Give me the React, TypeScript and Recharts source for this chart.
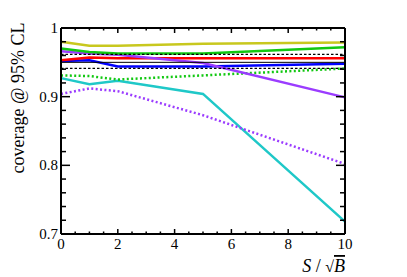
import { LineChart, Line, XAxis, YAxis, ReferenceLine, Label } from 'recharts';

// S / sqrt(B) sampling points
const signif = [0, 1, 2, 5, 10];

// coverage per method
const yellowCov = [0.980, 0.974, 0.974, 0.977, 0.979];
const greenCov = [0.970, 0.965, 0.963, 0.963, 0.972];
const redCov = [0.953, 0.957, 0.956, 0.956, 0.956];
const blueCov = [0.952, 0.953, 0.944, 0.944, 0.948];
const purpleCov = [0.966, 0.963, 0.961, 0.949, 0.899];
const cyanCov = [0.927, 0.918, 0.923, 0.904, 0.718];
const greenDotCov = [0.931, 0.930, 0.925, 0.931, 0.941];
const purpleDotCov = [0.904, 0.912, 0.908, 0.873, 0.802];

// nominal coverage and its band
const nominal = 0.95;
const bandLow = 0.9413;
const bandHigh = 0.9615;

const xMajor = [0, 2, 4, 6, 8, 10];
const xTicks = [0, 0.5, 1, 1.5, 2, 2.5, 3, 3.5, 4, 4.5, 5, 5.5, 6, 6.5, 7, 7.5, 8, 8.5, 9, 9.5, 10];
const yMajor = [0.7, 0.8, 0.9, 1];
const yTicks = [0.7, 0.72, 0.74, 0.76, 0.78, 0.8, 0.82, 0.84, 0.86, 0.88, 0.9, 0.92, 0.94, 0.96, 0.98, 1];

const data = signif.map((s, i) => ({
  s,
  yellow: yellowCov[i],
  green: greenCov[i],
  red: redCov[i],
  blue: blueCov[i],
  purple: purpleCov[i],
  cyan: cyanCov[i],
  greenDot: greenDotCov[i],
  purpleDot: purpleDotCov[i],
}));

const FONT = '"Liberation Serif", "DejaVu Serif", serif';
const AXIS = { stroke: '#000', strokeWidth: 2 };
// axes must have a non-zero size or recharts skips them
const THIN = 0.01;

// ROOT-style inward ticks, drawn from the axis tick positions
const BottomTick = ({ x, y, payload }: any) => {
  const major = xMajor.includes(payload.value);
  return (
    <g>
      <line x1={x} x2={x} y1={y} y2={y - (major ? 5 : 2.5)} stroke="#000" strokeWidth={1.5} />
      {major && (
        <text x={x} y={y + 15} textAnchor="middle" fontFamily={FONT} fontSize={15} fill="#000">
          {String(payload.value)}
        </text>
      )}
    </g>
  );
};

const TopTick = ({ x, y, payload }: any) => {
  const major = xMajor.includes(payload.value);
  return <line x1={x} x2={x} y1={y} y2={y + (major ? 5 : 2.5)} stroke="#000" strokeWidth={1.5} />;
};

const LeftTick = ({ x, y, payload }: any) => {
  const major = yMajor.includes(payload.value);
  return (
    <g>
      <line x1={x} x2={x + (major ? 9 : 5)} y1={y} y2={y} stroke="#000" strokeWidth={1.5} />
      {major && (
        <text x={x - 3} y={y + 5} textAnchor="end" fontFamily={FONT} fontSize={15} fill="#000">
          {String(payload.value)}
        </text>
      )}
    </g>
  );
};

const RightTick = ({ x, y, payload }: any) => {
  const major = yMajor.includes(payload.value);
  return <line x1={x} x2={x - (major ? 9 : 5)} y1={y} y2={y} stroke="#000" strokeWidth={1.5} />;
};

const XTitle = () => (
  <text x={345} y={272} textAnchor="end" fontFamily={FONT} fontSize={18} fill="#000">
    <tspan fontStyle="italic">S</tspan>
    <tspan> /  </tspan>
    <tspan fontSize={16}>√</tspan>
    <tspan fontStyle="italic" style={{ textDecoration: 'overline' }}>B</tspan>
  </text>
);

const YTitle = () => (
  <text
    x={0}
    y={0}
    transform="translate(24, 98) rotate(-90)"
    textAnchor="middle"
    fontFamily={FONT}
    fontSize={18}
    fill="#000"
  >
    coverage @ 95% CL
  </text>
);

export default function App() {
  const line = (id: string, color: string, dashed: boolean, top: boolean) => (
    <Line
      key={id}
      xAxisId={top ? 't' : 'b'}
      yAxisId={top ? 'r' : 'l'}
      dataKey={id}
      stroke={color}
      strokeWidth={2.5}
      strokeDasharray={dashed ? '2 2.4' : undefined}
      dot={false}
      isAnimationActive={false}
    />
  );

  return (
    <div style={{ position: 'absolute', left: 0, top: 0, background: '#fff' }}>
      <LineChart
        width={407}
        height={277}
        data={data}
        margin={{ top: 28, right: 62, bottom: 43, left: 61 }}
      >
        <XAxis
          xAxisId="b"
          dataKey="s"
          type="number"
          domain={[0, 10]}
          ticks={xTicks}
          interval={0}
          height={THIN}
          tickSize={0}
          tickMargin={0}
          tickLine={false}
          axisLine={AXIS}
          tick={<BottomTick />}
        >
          <Label content={<XTitle />} />
        </XAxis>
        <XAxis
          xAxisId="t"
          orientation="top"
          dataKey="s"
          type="number"
          domain={[0, 10]}
          ticks={xTicks}
          interval={0}
          height={THIN}
          tickSize={0}
          tickMargin={0}
          tickLine={false}
          axisLine={AXIS}
          tick={<TopTick />}
        />
        <YAxis
          yAxisId="l"
          type="number"
          domain={[0.7, 1]}
          ticks={yTicks}
          interval={0}
          width={THIN}
          tickSize={0}
          tickMargin={0}
          tickLine={false}
          axisLine={AXIS}
          tick={<LeftTick />}
        >
          <Label content={<YTitle />} />
        </YAxis>
        <YAxis
          yAxisId="r"
          orientation="right"
          type="number"
          domain={[0.7, 1]}
          ticks={yTicks}
          interval={0}
          width={THIN}
          tickSize={0}
          tickMargin={0}
          tickLine={false}
          axisLine={AXIS}
          tick={<RightTick />}
        />

        {line('cyan', '#1fc8c8', false, false)}
        {line('purpleDot', '#9b3cff', true, false)}
        {line('greenDot', '#12c812', true, false)}
        {line('blue', '#0000ff', false, false)}
        {line('red', '#ff0000', false, true)}
        {line('purple', '#9b3cff', false, true)}
        {line('green', '#12c812', false, true)}
        {line('yellow', '#c8c81e', false, true)}

        <ReferenceLine xAxisId="b" yAxisId="l" y={nominal} stroke="#000" strokeWidth={1} />
        <ReferenceLine xAxisId="b" yAxisId="l" y={bandHigh} stroke="#000" strokeWidth={1.3} strokeDasharray="2.5 2" />
        <ReferenceLine xAxisId="b" yAxisId="l" y={bandLow} stroke="#000" strokeWidth={1.3} strokeDasharray="2.5 2" />
      </LineChart>
    </div>
  );
}
